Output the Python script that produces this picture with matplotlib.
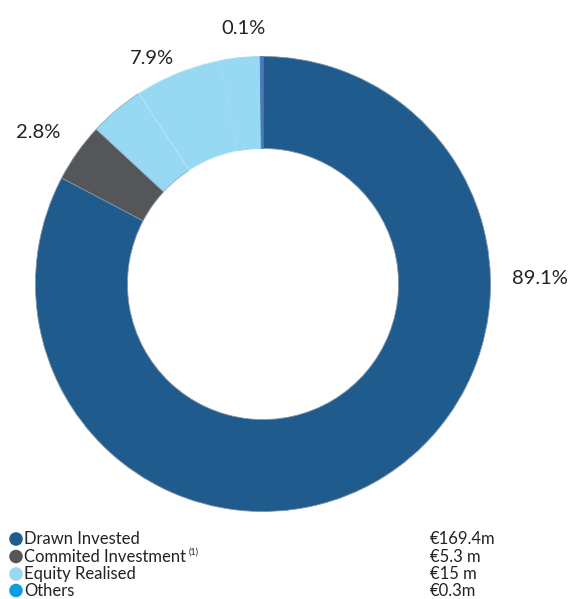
import matplotlib
matplotlib.use("Agg")
import matplotlib.pyplot as plt

# legend / label data
categories = ["Drawn Invested", "Commited Investment", "Equity Realised", "Others"]
amounts = ["€169.4m", "€5.3 m", "€15 m", "€0.3m"]
pct_labels = ["89.1%", "2.8%", "7.9%", "0.1%"]
legend_colors = ["#1f5b8d", "#55565a", "#97d9f2", "#0e9de0"]

# ring segments as drawn (share of the circle, clockwise from top)
wedge_shares = [82.8, 4.2, 3.9, 6.2, 2.8, 0.2]
wedge_colors = ["#1f5b8d", "#55565a", "#97d9f2", "#97d9f2", "#97d9f2", "#4a78b8"]
wedge_edges = ["#7f93a6", "#7f93a6", "#8fb2c2", "#c8ecf9", "#97d9f2", "#4a78b8"]

W, H = 570, 599
fig = plt.figure(figsize=(W / 100, H / 100), dpi=100)
ax = fig.add_axes([0, 0, 1, 1])

cx, cy = 263, H - 284
R = 227.5
wedges, _ = ax.pie(wedge_shares, colors=wedge_colors, startangle=90, counterclock=False,
                   center=(cx, cy), radius=R,
                   wedgeprops=dict(width=R * 0.404, linewidth=0.6))
for w, ec in zip(wedges, wedge_edges):
    w.set_edgecolor(ec)

ax.set_xlim(0, W)
ax.set_ylim(0, H)
ax.set_aspect("equal")
ax.axis("off")

font = dict(family=["Lato", "DejaVu Sans"], color="#222222")

# percentage labels (pixel positions of label centres)
label_xy = [(540, 279), (38.5, 132), (152, 59), (244, 28)]
for txt, (x, y) in zip(pct_labels, label_xy):
    ax.text(x, H - y, txt, ha="center", va="center", fontsize=14.5, **font)

# legend rows
row_y = [539, 556.5, 574, 590.5]
renderer = fig.canvas.get_renderer()
for i, (name, amt, col) in enumerate(zip(categories, amounts, legend_colors)):
    y = H - row_y[i]
    ax.scatter([16], [y], s=95, color=col, edgecolors="none", clip_on=False)
    t = ax.text(24, y, name, ha="left", va="center", fontsize=12, **font)
    ax.text(430, y, amt, ha="left", va="center", fontsize=12, **font)
    if i == 1:
        bb = t.get_window_extent(renderer)
        ax.text(bb.x1 + 3, y + 4, "(1)", ha="left", va="center", fontsize=6.5, **font)

fig.savefig("out.png", dpi=100)
